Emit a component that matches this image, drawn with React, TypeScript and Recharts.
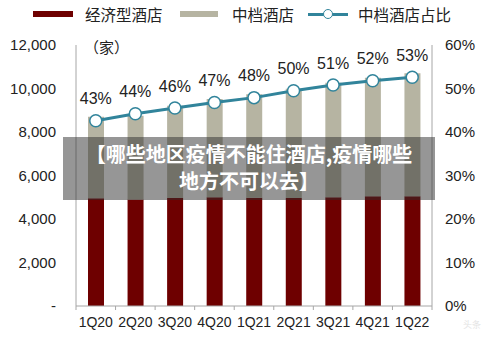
import React from 'react';
import { ComposedChart, Bar, Line, XAxis, YAxis, LabelList } from 'recharts';

const categories = ['1Q20', '2Q20', '3Q20', '4Q20', '1Q21', '2Q21', '3Q21', '4Q21', '1Q22'];
const economyHotels = [4950, 4900, 4960, 5000, 4980, 4970, 5000, 5050, 5050];
const midscaleHotels = [3750, 3850, 4250, 4520, 4750, 5020, 5270, 5450, 5650];
const midscaleShare = [42.6, 44.2, 45.5, 46.8, 47.9, 49.5, 50.8, 51.8, 52.6];
const leftTicks = [0, 2000, 4000, 6000, 8000, 10000, 12000];
const rightTicks = [0, 10, 20, 30, 40, 50, 60];

const seriesNames = ['经济型酒店', '中档酒店', '中档酒店占比'];
const unitLabel = '（家）';
const bannerLines = ['【哪些地区疫情不能住酒店,疫情哪些', '地方不可以去】'];

const data = categories.map((c, i) => ({
  cat: c,
  economy: economyHotels[i],
  mid: midscaleHotels[i],
  share: midscaleShare[i],
}));

const RED = '#6e0000';
const GREY = '#b6b4a2';
const TEAL = '#31849b';
const AXIS = '#a6a6a6';
const LATIN = '"Liberation Sans", Arial, sans-serif';
const CJK = '"Noto Sans CJK SC", sans-serif';

const XTick = (props: any) => {
  const { x, y, payload, index, visibleTicksCount, width } = props;
  const count = visibleTicksCount || categories.length;
  const band = payload && payload.offset ? payload.offset * 2 : (width || 356) / count;
  return (
    <g>
      <line x1={x - band / 2} x2={x - band / 2} y1={y} y2={y + 4} stroke={AXIS} />
      {index === count - 1 && (
        <line x1={x + band / 2} x2={x + band / 2} y1={y} y2={y + 4} stroke={AXIS} />
      )}
      <text x={x} y={y + 21} textAnchor="middle" fontSize={14} fill="#222" fontFamily={LATIN}>
        {payload.value}
      </text>
    </g>
  );
};

const ShareLabel = (props: any) => {
  const { x, y, value } = props;
  return (
    <text x={x} y={y - 22} dy="0.36em" textAnchor="middle" fontSize={16} fill="#222" fontFamily={LATIN}>
      {Math.round(value)}%
    </text>
  );
};

export default function App() {
  return (
    <div style={{ position: 'absolute', left: 0, top: 0, width: 500, height: 337, background: '#fff', fontFamily: LATIN, overflow: 'hidden' }}>
      <ComposedChart width={500} height={337} data={data} margin={{ top: 45, right: 0, bottom: 0, left: 0 }}>
        <XAxis
          dataKey="cat"
          height={31}
          tickLine={false}
          tickSize={0}
          tickMargin={0}
          axisLine={{ stroke: AXIS }}
          tick={<XTick />}
          interval={0}
        />
        <YAxis
          yAxisId="left"
          width={76}
          domain={[0, 12000]}
          ticks={leftTicks}
          tickLine={false}
          tickSize={0}
          tickMargin={20}
          axisLine={{ stroke: AXIS }}
          tick={{ fontSize: 15, fill: '#222', fontFamily: LATIN }}
          tickFormatter={(v: number) => (v === 0 ? '-' : v.toLocaleString('en-US'))}
        />
        <YAxis
          yAxisId="right"
          orientation="right"
          width={68}
          domain={[0, 60]}
          ticks={rightTicks}
          tickLine={false}
          tickSize={0}
          tickMargin={13}
          axisLine={{ stroke: AXIS }}
          tick={{ fontSize: 15, fill: '#222', fontFamily: LATIN, textAnchor: 'start' }}
          tickFormatter={(v: number) => `${v}%`}
        />
        <Bar yAxisId="left" dataKey="economy" stackId="a" fill={RED} barSize={16} isAnimationActive={false} />
        <Bar yAxisId="left" dataKey="mid" stackId="a" fill={GREY} barSize={16} isAnimationActive={false} />
        <Line
          yAxisId="right"
          dataKey="share"
          stroke={TEAL}
          strokeWidth={3}
          dot={{ r: 6, fill: '#fff', stroke: TEAL, strokeWidth: 1.5 }}
          isAnimationActive={false}
        >
          <LabelList dataKey="share" content={<ShareLabel />} />
        </Line>
      </ComposedChart>

      {/* Legend */}
      <div style={{ position: 'absolute', left: 33, top: 11, width: 40, height: 6, background: RED }} />
      <div style={{ position: 'absolute', left: 85, top: 0, lineHeight: '28px', fontSize: 15.5, fontFamily: CJK, color: '#222', whiteSpace: 'nowrap' }}>{seriesNames[0]}</div>
      <div style={{ position: 'absolute', left: 180, top: 11, width: 38, height: 6, background: GREY }} />
      <div style={{ position: 'absolute', left: 232, top: 0, lineHeight: '28px', fontSize: 15.5, fontFamily: CJK, color: '#222', whiteSpace: 'nowrap' }}>{seriesNames[1]}</div>
      <div style={{ position: 'absolute', left: 308, top: 12.5, width: 40, height: 3, background: TEAL }} />
      <div style={{ position: 'absolute', left: 323, top: 9, width: 8, height: 8, borderRadius: 5, background: '#fff', border: `1.5px solid ${TEAL}` }} />
      <div style={{ position: 'absolute', left: 358, top: 0, lineHeight: '28px', fontSize: 15.5, fontFamily: CJK, color: '#222', whiteSpace: 'nowrap' }}>{seriesNames[2]}</div>

      {/* unit */}
      <div style={{ position: 'absolute', left: 84, top: 37, lineHeight: '20px', fontSize: 15, fontFamily: CJK, color: '#222', whiteSpace: 'nowrap' }}>{unitLabel}</div>

      {/* banner overlay */}
      <div style={{ position: 'absolute', left: 63, top: 137, width: 372, height: 63, background: 'rgba(45,45,45,0.5)' }}>
        {bannerLines.map((t, i) => (
          <div key={i} style={{ position: 'absolute', left: 0, width: 372, top: 2.5 + i * 27, lineHeight: '27px', textAlign: 'center', color: '#fff', fontWeight: 'bold', fontSize: 20, fontFamily: CJK, whiteSpace: 'nowrap' }}>{t}</div>
        ))}
      </div>

      {/* watermark */}
      <div style={{ position: 'absolute', left: 463, top: 318, fontSize: 9, color: '#e4e4e4', fontFamily: CJK, whiteSpace: 'nowrap' }}>头条</div>
    </div>
  );
}
